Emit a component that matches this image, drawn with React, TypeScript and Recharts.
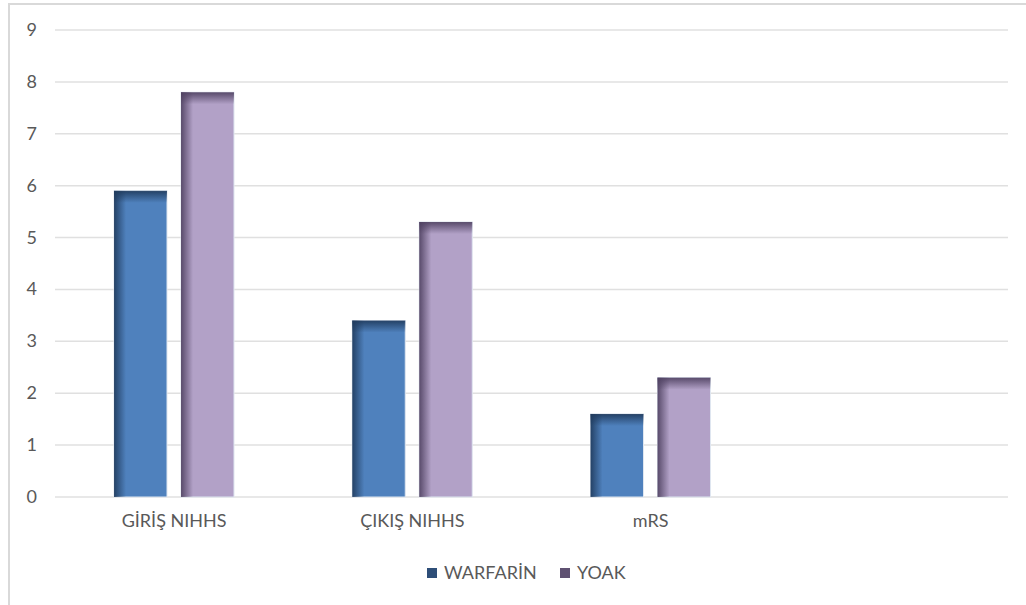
import React from "react";
import { BarChart, Bar, XAxis, YAxis, CartesianGrid, Legend } from "recharts";

const categories = ["GİRİŞ NIHHS", "ÇIKIŞ NIHHS", "mRS", ""];
const warfarin: (number | null)[] = [5.9, 3.4, 1.6, null];
const yoak: (number | null)[] = [7.8, 5.3, 2.3, null];
const yTicks = [0, 1, 2, 3, 4, 5, 6, 7, 8, 9];
const seriesNames = ["WARFARİN", "YOAK"];

const data = categories.map((c, i) => ({ name: c, w: warfarin[i], y: yoak[i] }));

const FONT = "Lato, 'Open Sans', sans-serif";
const FS = 18;

const makeShape = (base: string, gid: string) => (props: any) => {
  const { x, y, width, height } = props;
  if (!height || height <= 0) return null;
  const e = Math.min(12, width);
  const t = Math.min(12, height);
  return (
    <g>
      <rect x={x} y={y} width={width} height={height} fill={base} stroke="#dfe6f0" strokeWidth={1} />
      <rect x={x} y={y} width={e} height={height} fill={`url(#${gid}L)`} />
      <rect x={x} y={y} width={width} height={t} fill={`url(#${gid}T)`} />
    </g>
  );
};

const XTick = (props: any) => {
  const { x, y, payload } = props;
  return (
    <text x={x} y={y} dy={22} textAnchor="middle" fill="#595959" fontSize={FS} fontFamily={FONT}>
      {payload.value}
    </text>
  );
};

const YTick = (props: any) => {
  const { y, payload } = props;
  return (
    <text x={37} y={y} dy={6} textAnchor="end" fill="#595959" fontSize={FS} fontFamily={FONT}>
      {payload.value}
    </text>
  );
};

const LegendContent = () => {
  const items = [
    { name: seriesNames[0], color: "#2E4E78", x: 427 },
    { name: seriesNames[1], color: "#5F5172", x: 560 },
  ];
  return (
    <svg width={1026} height={30} style={{ display: "block" }}>
      {items.map((it) => (
        <g key={it.name}>
          <rect x={it.x} y={9} width={10} height={10} fill={it.color} />
          <text x={it.x + 17} y={20} fill="#595959" fontSize={FS} fontFamily={FONT}>
            {it.name}
          </text>
        </g>
      ))}
    </svg>
  );
};

export default function App() {
  return (
    <div style={{ position: "absolute", left: 0, top: 0, width: 1026, height: 605, background: "#fff", overflow: "hidden" }}>
      <div style={{ position: "absolute", left: 8, top: 3, width: 1030, height: 610, border: "2px solid #d9d9d9", boxSizing: "border-box" }} />
      <BarChart
        width={1026}
        height={605}
        data={data}
        margin={{ top: 30, right: 18, left: 10, bottom: 30 }}
        barGap={14}
        barSize={53}
      >
        <defs>
          <linearGradient id="wL" x1="0" y1="0" x2="1" y2="0">
            <stop offset="0" stopColor="#1f3a5c" stopOpacity={0.9} />
            <stop offset="1" stopColor="#1f3a5c" stopOpacity={0} />
          </linearGradient>
          <linearGradient id="wT" x1="0" y1="0" x2="0" y2="1">
            <stop offset="0" stopColor="#1f3a5c" stopOpacity={0.9} />
            <stop offset="1" stopColor="#1f3a5c" stopOpacity={0} />
          </linearGradient>
          <linearGradient id="yL" x1="0" y1="0" x2="1" y2="0">
            <stop offset="0" stopColor="#4e4060" stopOpacity={0.9} />
            <stop offset="1" stopColor="#4e4060" stopOpacity={0} />
          </linearGradient>
          <linearGradient id="yT" x1="0" y1="0" x2="0" y2="1">
            <stop offset="0" stopColor="#4e4060" stopOpacity={0.9} />
            <stop offset="1" stopColor="#4e4060" stopOpacity={0} />
          </linearGradient>
        </defs>
        <CartesianGrid vertical={false} stroke="#e0e0e0" strokeWidth={1.5} />
        <XAxis dataKey="name" axisLine={false} tickLine={false} tick={<XTick />} height={30} interval={0} />
        <YAxis
          domain={[0, 9]}
          ticks={yTicks}
          axisLine={false}
          tickLine={false}
          width={45}
          tick={<YTick />}
          interval={0}
        />
        <Legend verticalAlign="bottom" height={48} content={<LegendContent />} wrapperStyle={{ left: 0, top: 559 }} />
        <Bar dataKey="w" name={seriesNames[0]} fill="#4F81BD" isAnimationActive={false} shape={makeShape("#4F81BD", "w")} />
        <Bar dataKey="y" name={seriesNames[1]} fill="#B2A1C7" isAnimationActive={false} shape={makeShape("#B2A1C7", "y")} />
      </BarChart>
    </div>
  );
}
